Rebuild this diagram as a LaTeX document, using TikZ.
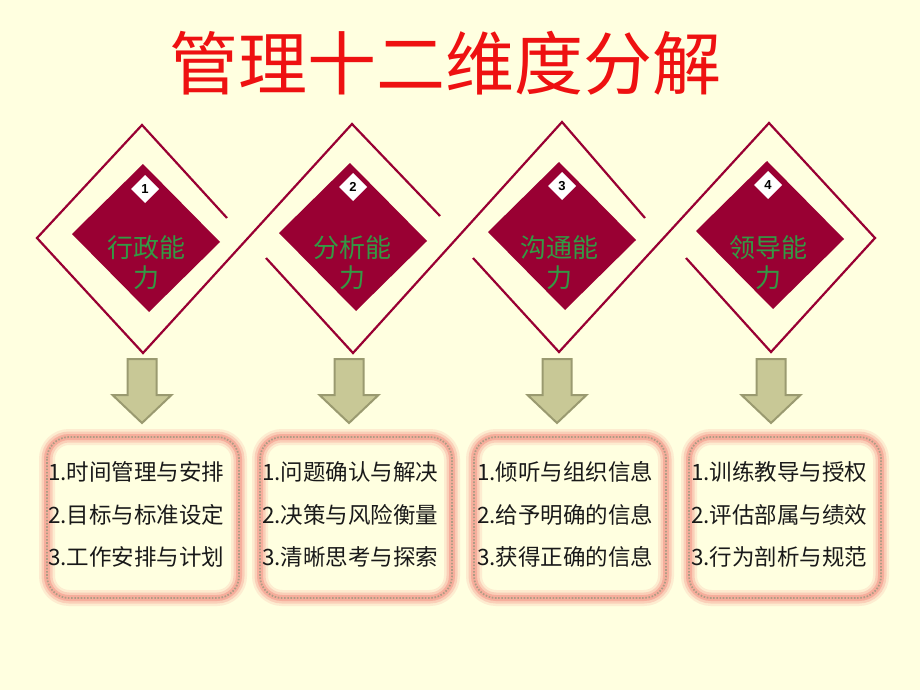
\documentclass[tikz,border=0pt]{standalone}
\usepackage{fontspec}
\setmainfont{Liberation Sans}
\newfontfamily\cjk{Noto Sans CJK SC}
\definecolor{bgc}{HTML}{FFFFE0}
\definecolor{maroon}{HTML}{990033}
\definecolor{titlered}{HTML}{EE1111}
\definecolor{greentxt}{HTML}{339944}
\definecolor{arrowfill}{HTML}{C8C896}
\definecolor{arrowline}{HTML}{9A9A70}
\definecolor{glowc}{HTML}{F4A090}
\definecolor{dotc}{HTML}{B09C84}
\tikzset{
  outline/.style={draw=maroon, line width=2.2pt, line join=miter},
  innerdia/.style={fill=maroon, draw=none},
  numdia/.style={fill=white, draw=none},
  numtxt/.style={font=\fontsize{13}{13}\selectfont\bfseries, text=black, inner sep=0pt},
  dialabel/.style={font=\cjk\fontsize{26}{30}\selectfont, text=greentxt, align=center, inner sep=0pt},
  downarrow/.style={fill=arrowfill, draw=arrowline, line width=2pt, line join=miter},
  glow1/.style={draw=glowc!20!bgc, line width=16pt, rounded corners=22pt},
  glow2/.style={draw=glowc!50!bgc, line width=11pt, rounded corners=22pt},
  glow3/.style={draw=glowc!85!bgc, line width=6pt, rounded corners=22pt},
  dotline/.style={draw=dotc, line width=1.8pt, dash pattern=on 1.6pt off 1.6pt, rounded corners=22pt},
  boxtxt/.style={font=\cjk\fontsize{22.5}{22.5}\selectfont, text=black!90, anchor=west, inner sep=0pt},
}
\begin{document}
\begin{tikzpicture}[x=1pt,y=-1pt]
\fill[bgc] (0,0) rectangle (920,690);
\useasboundingbox (0,0) rectangle (920,690);

% title
\node[font=\cjk\fontsize{69}{69}\selectfont, text=titlered, inner sep=0pt] (title) at (445,63) {管理十二维度分解};

% outline zigzag
\coordinate (a1) at (227,218);
\coordinate (t1) at (142,125);
\coordinate (l1) at (37,238);
\coordinate (b1) at (143,353);
\coordinate (t2) at (352,124);
\coordinate (e2) at (440,216);
\coordinate (s2) at (266,258);
\coordinate (b2) at (353,353);
\coordinate (t3) at (562,122);
\coordinate (e3) at (645,218);
\coordinate (s3) at (473,258);
\coordinate (b3) at (559,352);
\coordinate (t4) at (769,123);
\coordinate (r4) at (875,238);
\coordinate (b4) at (771,352);
\coordinate (e4) at (686,258);
\draw[outline] (a1) -- (t1) -- (l1) -- (b1) -- (t2) -- (e2);
\draw[outline] (s2) -- (b2) -- (t3) -- (e3);
\draw[outline] (s3) -- (b3) -- (t4) -- (r4) -- (b4) -- (e4);

% inner diamonds
\foreach \i/\cx/\cy in {1/146/238, 2/353/237, 3/562/236, 4/770/235}{
  \fill[innerdia] (\cx-3,\cy-74) -- (\cx+74,\cy+4) -- (\cx+3,\cy+74) -- (\cx-74,\cy-4) -- cycle;
}
% number diamonds
\foreach \i/\cx/\cy in {1/145/189, 2/353/187, 3/562/186, 4/768/185}{
  \fill[numdia] (\cx,\cy-14) -- (\cx+14,\cy) -- (\cx,\cy+14) -- (\cx-14,\cy) -- cycle;
  \node[numtxt] (n\i) at (\cx,\cy) {\i};
}
\node[dialabel] (d1) at (146,263) {行政能\\力};
\node[dialabel] (d2) at (352,263) {分析能\\力};
\node[dialabel] (d3) at (559,263) {沟通能\\力};
\node[dialabel] (d4) at (768,263) {领导能\\力};

% arrows
\foreach \cx in {142,349,557,771}{
  \draw[downarrow] (\cx-14.5,359) -- (\cx+14.5,359) -- (\cx+14.5,395) -- (\cx+29.5,395) -- (\cx,423) -- (\cx-29.5,395) -- (\cx-14.5,395) -- cycle;
}

% boxes
\foreach \lx in {47,260,474,689}{
  \fill[bgc, rounded corners=22pt] (\lx,437) rectangle (\lx+192,598);
  \draw[glow1] (\lx,437) rectangle (\lx+192,598);
  \draw[glow2] (\lx,437) rectangle (\lx+192,598);
  \draw[glow3] (\lx,437) rectangle (\lx+192,598);
  \draw[dotline] (\lx,437) rectangle (\lx+192,598);
}

\node[boxtxt] (p11) at (48,472) {1.时间管理与安排};
\node[boxtxt] (p12) at (48,515) {2.目标与标准设定};
\node[boxtxt] (p13) at (48,557) {3.工作安排与计划};
\node[boxtxt] (p21) at (262,472) {1.问题确认与解决};
\node[boxtxt] (p22) at (262,515) {2.决策与风险衡量};
\node[boxtxt] (p23) at (262,557) {3.清晰思考与探索};
\node[boxtxt] (p31) at (477,472) {1.倾听与组织信息};
\node[boxtxt] (p32) at (477,515) {2.给予明确的信息};
\node[boxtxt] (p33) at (477,557) {3.获得正确的信息};
\node[boxtxt] (p41) at (691,472) {1.训练教导与授权};
\node[boxtxt] (p42) at (691,515) {2.评估部属与绩效};
\node[boxtxt] (p43) at (691,557) {3.行为剖析与规范};
\end{tikzpicture}
\end{document}
